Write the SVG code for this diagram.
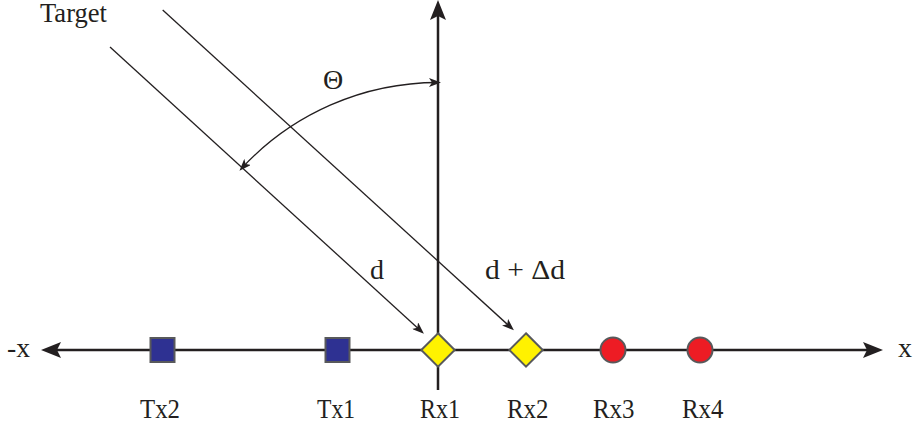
<svg xmlns="http://www.w3.org/2000/svg" width="913" height="430" viewBox="0 0 913 430">
<style>
text{font-family:"Liberation Serif","Times New Roman",serif;font-size:28px;fill:#231f20}
.axis{stroke:#231f20;stroke-width:2.5;fill:none}
.ray{stroke:#231f20;stroke-width:1.3;fill:none}
.tx{fill:#2e3192;stroke:#58595b;stroke-width:2}
.rxd{fill:#fff200;stroke:#58595b;stroke-width:2}
.rxc{fill:#ed1c24;stroke:#58595b;stroke-width:2}
</style>
<defs>
<marker id="big" viewBox="0 0 20 16" refX="10" refY="8" markerWidth="20" markerHeight="16" markerUnits="userSpaceOnUse" orient="auto-start-reverse">
<path d="M0,0 L20,8 L0,16 L4,8 Z" fill="#231f20"/>
</marker>
<marker id="small" viewBox="0 0 12 9" refX="9" refY="4.5" markerWidth="12" markerHeight="9" markerUnits="userSpaceOnUse" orient="auto-start-reverse">
<path d="M0,0 L12,4.5 L0,9 L3,4.5 Z" fill="#231f20"/>
</marker>
</defs>
<g id="connectors">
<line class="axis" x1="51" y1="350" x2="873" y2="350" marker-start="url(#big)" marker-end="url(#big)"/>
<line class="axis" x1="438" y1="390" x2="438" y2="10" marker-end="url(#big)"/>
<line class="ray" x1="110" y1="47" x2="421.7" y2="331.7" marker-end="url(#small)"/>
<line class="ray" x1="162.7" y1="10" x2="511.7" y2="328.3" marker-end="url(#small)"/>
<path class="ray" d="M241.5,168.5 A267.5,267.5 0 0 1 438,82.5" marker-start="url(#small)" marker-end="url(#small)"/>
</g>
<g id="labels">
<text x="40" y="22" textLength="67" lengthAdjust="spacingAndGlyphs">Target</text>
<text x="333" y="89" text-anchor="middle">Θ</text>
<text x="370" y="279">d</text>
<text x="485" y="279" textLength="80" lengthAdjust="spacingAndGlyphs">d + Δd</text>
<text x="7" y="357" textLength="23" lengthAdjust="spacingAndGlyphs">-x</text>
<text x="898" y="357">x</text>
</g>
<g id="Tx2"><rect class="tx" x="150.5" y="338" width="24" height="24"/><text x="140" y="418" textLength="40" lengthAdjust="spacingAndGlyphs">Tx2</text></g>
<g id="Tx1"><rect class="tx" x="325.5" y="338" width="24" height="24"/><text x="317" y="418" textLength="38" lengthAdjust="spacingAndGlyphs">Tx1</text></g>
<g id="Rx1"><path class="rxd" d="M438,333.3 L454.7,350 L438,366.7 L421.3,350 Z"/><text x="420" y="418" textLength="40" lengthAdjust="spacingAndGlyphs">Rx1</text></g>
<g id="Rx2"><path class="rxd" d="M526,333.3 L542.7,350 L526,366.7 L509.3,350 Z"/><text x="507" y="418" textLength="41.5" lengthAdjust="spacingAndGlyphs">Rx2</text></g>
<g id="Rx3"><circle class="rxc" cx="613" cy="350" r="12.5"/><text x="593" y="418" textLength="41.5" lengthAdjust="spacingAndGlyphs">Rx3</text></g>
<g id="Rx4"><circle class="rxc" cx="700" cy="350" r="12.5"/><text x="682" y="418" textLength="41.5" lengthAdjust="spacingAndGlyphs">Rx4</text></g>
</svg>
